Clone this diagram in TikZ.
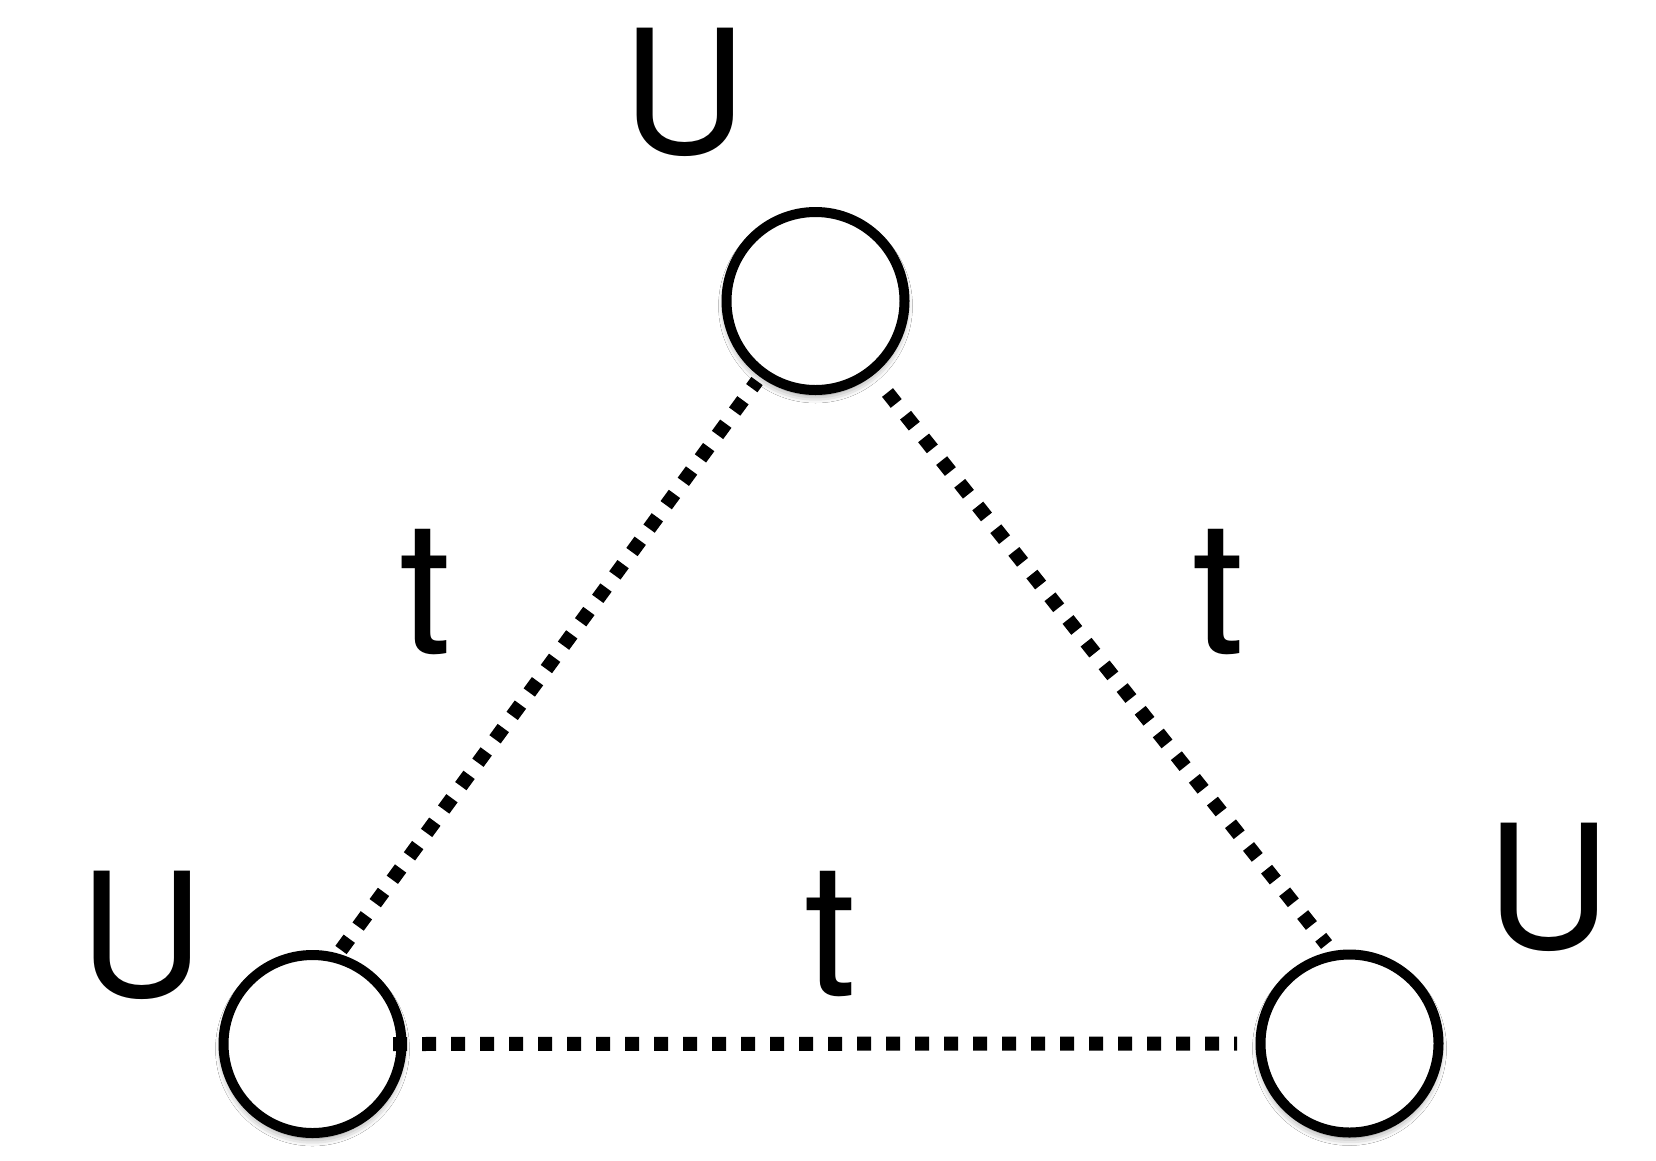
\documentclass[tikz,border=0pt]{standalone}
\usepackage{fontspec}
\setmainfont{TeX Gyre Heros}
\usepackage{tikz}
\usetikzlibrary{calc}
\usetikzlibrary{shadows.blur}
\tikzset{
  site/.style={circle, draw=black, fill=white, line width=10pt, inner sep=0pt, minimum size=178pt,
    blur shadow={shadow xshift=0pt, shadow yshift=-5pt, shadow blur radius=8pt, shadow opacity=50}},
  hop/.style={line width=14pt, dash pattern=on 14pt off 15pt},
  ulbl/.style={anchor=base, inner sep=0pt, font=\fontsize{172}{172}\selectfont},
  tlbl/.style={anchor=base, inner sep=0pt, font=\fontsize{186}{186}\selectfont}
}

\begin{document}
\begin{tikzpicture}[x=1pt, y=-1pt]
        \useasboundingbox[fill=white] (0,0) rectangle (1656,1160);
        % sites
        \node[site] (top) at (815.5,301) {};
        \node[site] (left) at (312.5,1044) {};
        \node[site] (right) at (1349.5,1043.5) {};
        % hops
        \draw[hop] ($(left)+(28.5,-94)$) -- ($(top)+(-58.5,80)$);
        \draw[hop] ($(top)+(72,91.5)$) -- ($(right)+(-23,-99)$);
        \draw[hop] ($(left)+(80.5,0)$) -- ($(right)+(-112.5,0)$);
        % on-site labels
        \node[ulbl] (utop) at (685,153) {U};
        \node[ulbl] (uleft) at (141.5,996) {U};
        \node[ulbl] (uright) at (1549,948) {U};
        % hopping labels
        \node[tlbl] (tleft) at (425,653) {t};
        \node[tlbl] (tright) at (1218,653) {t};
        \node[tlbl] (tbottom) at (830,995) {t};
\end{tikzpicture}
\end{document}
